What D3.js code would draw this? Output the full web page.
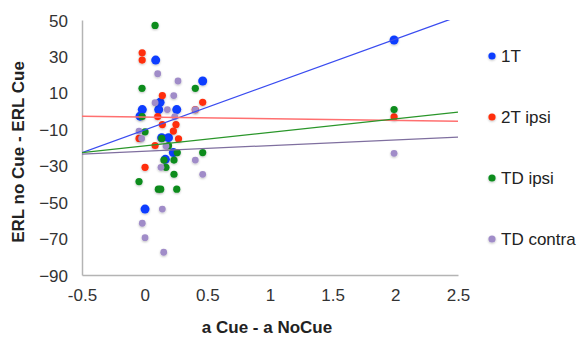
<!DOCTYPE html>
<html>
<head>
<meta charset="utf-8">
<script src="https://cdn.jsdelivr.net/npm/d3@7"></script>
<style>
  body { margin: 0; background: #fff; }
  text { font-family: "Liberation Sans", Arial, sans-serif; }
</style>
</head>
<body>
<div id="chart"></div>
<script>
// series names and colours
const seriesNames = ['1T', '2T ipsi', 'TD ipsi', 'TD contra'];
const seriesColors = ['#0a3cff', '#ff2d0a', '#0a8c1e', '#a08cc8'];
const lineColors = ['#3a4cf0', '#ff7070', '#2a962a', '#7f6f9f'];

// [x, y] points
const pts1T = [[0.088, 28], [0.463, 16.5], [0.123, 4.8], [-0.019, 0.8], [0.112, 0.8], [0.256, 0.8],
  [-0.037, -2.8], [0.136, -14.6], [0.19, -14.6], [0.229, -22.8], [0.165, -26.5], [0.003, -53.8], [1.99, 39]];
const pts2T = [[-0.02, 32], [-0.02, 28], [0.141, 8.5], [0.463, 4.8], [0.404, 0.8], [0.104, -3], [0.141, -7.4],
  [0.25, -7.4], [0.229, -11], [-0.045, -15], [0.27, -15.2], [0.083, -18.9], [0.003, -30.9], [1.99, -3.2]];
const ptsTDi = [[0.083, 47], [-0.021, 12.5], [0.404, 12.5], [-0.02, -3], [0.003, -11.4], [0.136, -15],
  [0.19, -19], [0.26, -22.8], [0.463, -22.8], [0.154, -26.9], [0.234, -26.9], [0.17, -30.9], [0.234, -34.7],
  [-0.045, -38.7], [0.109, -42.9], [0.128, -42.9], [0.256, -42.9], [1.99, 0.8]];
const ptsTDc = [[0.104, 20.5], [0.266, 16.5], [0.232, 8.5], [0.083, 4.6], [0.181, 0.8], [0.404, 0.8],
  [0.24, -3], [-0.045, -11], [-0.024, -15], [0.17, -19.2], [0.404, -26.9], [0.13, -30.9], [0.463, -34.7],
  [0.141, -53.8], [-0.019, -61.6], [0.003, -69.5], [0.152, -77.5], [1.99, -23.2]];

// trend lines: [intercept, slope]
const trends = [[-10.35, 24.9], [-3.27, -0.93], [-19.1, 7.4], [-22.05, 3.1]];

const xTicks = [-0.5, 0, 0.5, 1, 1.5, 2, 2.5];
const yTicks = [50, 30, 10, -10, -30, -50, -70, -90];

const allSeries = [pts1T, pts2T, ptsTDi, ptsTDc];
const radii = [4.5, 3.6, 3.6, 3.4];

const width = 579, height = 340;
const x = d3.scaleLinear().domain([-0.5, 2.5]).range([82, 458]);
const y = d3.scaleLinear().domain([-90, 50]).range([275, 20]);

const svg = d3.select('#chart').append('svg')
  .attr('width', width).attr('height', height);

const defs = svg.append('defs');
defs.append('clipPath').attr('id', 'plot')
  .append('rect').attr('x', 82).attr('y', 20).attr('width', 376).attr('height', 255);
const f = defs.append('filter').attr('id', 'shadow').attr('x', '-50%').attr('y', '-50%')
  .attr('width', '200%').attr('height', '200%');
f.append('feDropShadow').attr('dx', 0).attr('dy', 1).attr('stdDeviation', 1)
  .attr('flood-color', '#000').attr('flood-opacity', 0.25);

// axes
const xAxis = svg.append('g').attr('transform', `translate(0,${y(-90)})`)
  .call(d3.axisBottom(x).tickValues(xTicks).tickSize(0).tickPadding(14)
    .tickFormat(d => String(d).replace('-', '-')));
const yAxis = svg.append('g').attr('transform', `translate(${x(-0.5)},0)`)
  .call(d3.axisLeft(y).tickValues(yTicks).tickSize(0).tickPadding(14));
[xAxis, yAxis].forEach(a => {
  a.select('.domain').attr('stroke', '#b4b4b4').attr('stroke-width', 1.5);
  a.selectAll('text').attr('font-size', 17).attr('fill', '#333');
});
yAxis.selectAll('text').attr('dy', '0.36em');

// points
const g = svg.append('g');
allSeries.forEach((pts, i) => {
  g.append('g').selectAll('circle').data(pts).enter().append('circle')
    .attr('cx', d => x(d[0])).attr('cy', d => y(d[1]))
    .attr('r', radii[i])
    .attr('fill', seriesColors[i])
    .attr('filter', 'url(#shadow)');
});

// trend lines
const lines = svg.append('g').attr('clip-path', 'url(#plot)');
trends.forEach((t, i) => {
  const xs = x.domain();
  lines.append('line')
    .attr('x1', x(xs[0])).attr('y1', y(t[0] + t[1] * xs[0]))
    .attr('x2', x(xs[1])).attr('y2', y(t[0] + t[1] * xs[1]))
    .attr('stroke', lineColors[i]).attr('stroke-width', i === 1 ? 1.6 : 1.3);
});

// legend
const leg = svg.append('g').selectAll('g').data(seriesNames).enter().append('g')
  .attr('transform', (d, i) => `translate(492,${56 + i * 61})`);
leg.append('circle').attr('r', 3.6).attr('fill', (d, i) => seriesColors[i]).attr('filter', 'url(#shadow)');
leg.append('text').attr('x', 9).attr('dy', '0.36em').attr('font-size', 17).attr('fill', '#222')
  .text(d => d);

// titles
svg.append('text').attr('x', 267).attr('y', 333).attr('text-anchor', 'middle')
  .attr('font-size', 17).attr('font-weight', 'bold').attr('fill', '#222').text('a Cue - a NoCue');
svg.append('text').attr('transform', 'translate(24,152) rotate(-90)').attr('text-anchor', 'middle')
  .attr('font-size', 17).attr('font-weight', 'bold').attr('fill', '#222').text('ERL no Cue - ERL Cue');
</script>
</body>
</html>
